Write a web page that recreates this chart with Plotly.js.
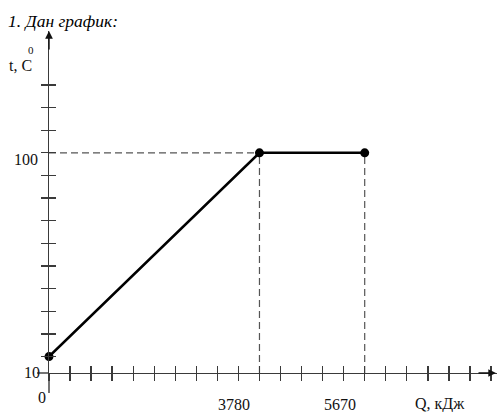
<!DOCTYPE html>
<html>
<head>
<meta charset="utf-8">
<script src="https://cdn.plot.ly/plotly-3.0.1.min.js"></script>
<style>html,body{margin:0;padding:0;background:#fff;}#chart{width:497px;height:412px;}</style>
</head>
<body>
<div id="chart"></div>
<script>
// Data
const heatQ = [0, 3780, 5670];          // Q, кДж
const tempT = [10, 100, 100];           // t, °C
const xLabelVals = [3780, 5670];
const xLabelText = ['3780', '5670'];
const yLabelText = ['10', '100'];
const yTickVals = [10, 20, 30, 40, 50, 60, 70, 80, 90, 100, 110, 120, 130];
const titleText = '1. Дан график:';
const xAxisName = 'Q, кДж';
const yAxisName = 't, C';
const yAxisSup = '0';

// Layout constants
const W = 497, H = 412;
const M = {l: 49, r: 0, t: 31, b: 39};
const plotW = W - M.l - M.r, plotH = H - M.t - M.b;
const xRange = [0, 8046];
const yBase = 2.75;                     // value where the horizontal axis crosses
const yRange = [yBase, 153.8];
const pxX = px => (px - M.l) / plotW;
const pxY = py => (H - M.b - py) / plotH;

const serif = '"Liberation Serif", "Times New Roman", serif';
const axisCol = '#3a3a3a';

// dashed guide lines from the data points to the axes
const flatIdx = [1, 2];
const dashX = [], dashY = [];
flatIdx.forEach(i => { dashX.push(heatQ[i], heatQ[i], null); dashY.push(yBase, tempT[i], null); });
dashX.push(heatQ[0], heatQ[1]); dashY.push(tempT[1], tempT[1]);

const traces = [
  {x: dashX, y: dashY, mode: 'lines', line: {color: '#555', width: 1.2, dash: '7px,4px'}, hoverinfo: 'skip', showlegend: false},
  {x: heatQ, y: tempT, mode: 'lines+markers', line: {color: '#000', width: 2.6},
   marker: {color: '#000', size: 9}, cliponaxis: false, showlegend: false},
  // invisible copy on the overlay axes so their inward ticks are drawn
  {x: heatQ, y: tempT, xaxis: 'x2', yaxis: 'y2', mode: 'lines', line: {color: 'rgba(0,0,0,0)', width: 0},
   hoverinfo: 'skip', showlegend: false}
];

const xCommon = {range: xRange, showgrid: false, zeroline: false,
  showline: true, linecolor: axisCol, linewidth: 1.4, tickmode: 'linear', tick0: 0, dtick: 378,
  ticklen: 7, tickwidth: 1.3, tickcolor: axisCol, showticklabels: false, fixedrange: true};
const yCommon = {range: yRange, showgrid: false, zeroline: false,
  showline: true, linecolor: axisCol, linewidth: 1.4, tickmode: 'array', tickvals: yTickVals,
  ticklen: 7, tickwidth: 1.3, tickcolor: axisCol, showticklabels: false, fixedrange: true};

const annotations = [];
const txtFont = s => ({family: serif, size: s, color: '#111'});
// x value labels (offset left of their ticks, as in the picture)
xLabelVals.forEach((v, i) => annotations.push({x: v, xref: 'x', y: 0, yref: 'paper', text: xLabelText[i],
  showarrow: false, xanchor: 'center', yanchor: 'middle', xshift: -25, yshift: -31, font: txtFont(16)}));
// y value labels
annotations.push({x: pxX(42), xref: 'paper', y: 0, yref: 'paper', text: yLabelText[0], showarrow: false,
  xanchor: 'right', yanchor: 'middle', yshift: 1, font: txtFont(16)});
annotations.push({x: pxX(40), xref: 'paper', y: tempT[1], yref: 'y', text: yLabelText[1], showarrow: false,
  xanchor: 'right', yanchor: 'middle', yshift: -7, font: txtFont(16)});
// origin
annotations.push({x: pxX(41.5), xref: 'paper', y: pxY(397), yref: 'paper', text: '0', showarrow: false,
  xanchor: 'center', yanchor: 'middle', font: txtFont(16)});
// axis names
annotations.push({x: pxX(440), xref: 'paper', y: pxY(404), yref: 'paper', text: xAxisName, showarrow: false,
  xanchor: 'center', yanchor: 'middle', font: txtFont(16)});
annotations.push({x: pxX(7), xref: 'paper', y: pxY(65), yref: 'paper', text: yAxisName, showarrow: false,
  xanchor: 'left', yanchor: 'middle', font: txtFont(16)});
annotations.push({x: pxX(30.5), xref: 'paper', y: pxY(50), yref: 'paper', text: yAxisSup, showarrow: false,
  xanchor: 'center', yanchor: 'middle', font: txtFont(11)});
// title
annotations.push({x: pxX(6), xref: 'paper', y: pxY(21), yref: 'paper', text: '<i>' + titleText + '</i>', showarrow: false,
  xanchor: 'left', yanchor: 'middle', font: {family: serif, size: 17.5, color: '#000'}});
// axis arrows
annotations.push({x: 0, xref: 'paper', y: 1, yref: 'paper', ax: 0, ay: 20, axref: 'pixel', ayref: 'pixel', text: '',
  showarrow: true, arrowhead: 2, arrowsize: 1.1, arrowwidth: 1.4, arrowcolor: '#111', standoff: 0});
annotations.push({x: 1, xref: 'paper', y: 0, yref: 'paper', ax: -20, ay: 0, axref: 'pixel', ayref: 'pixel', text: '',
  showarrow: true, arrowhead: 2, arrowsize: 1.1, arrowwidth: 1.4, arrowcolor: '#111', standoff: 0});

// axis-line extensions past the origin (left of it and below it)
const shapes = [
  {type: 'line', xref: 'paper', yref: 'paper', x0: pxX(37), x1: 0, y0: 0, y1: 0, line: {color: axisCol, width: 1.4}},
  {type: 'line', xref: 'paper', yref: 'paper', x0: 0, x1: 0, y0: pxY(393), y1: 0, line: {color: axisCol, width: 1.4}}
];

const layout = {
  width: W, height: H, margin: M, paper_bgcolor: '#fff', plot_bgcolor: '#fff', showlegend: false,
  xaxis: Object.assign({}, xCommon, {ticks: 'outside', anchor: 'y'}),
  yaxis: Object.assign({}, yCommon, {ticks: 'outside', anchor: 'x'}),
  xaxis2: Object.assign({}, xCommon, {ticks: 'inside', overlaying: 'x', anchor: 'y2', side: 'bottom'}),
  yaxis2: Object.assign({}, yCommon, {ticks: 'inside', overlaying: 'y', anchor: 'x2', side: 'left'}),
  annotations: annotations, shapes: shapes
};

Plotly.newPlot('chart', traces, layout, {staticPlot: true, displayModeBar: false});
</script>
</body>
</html>
